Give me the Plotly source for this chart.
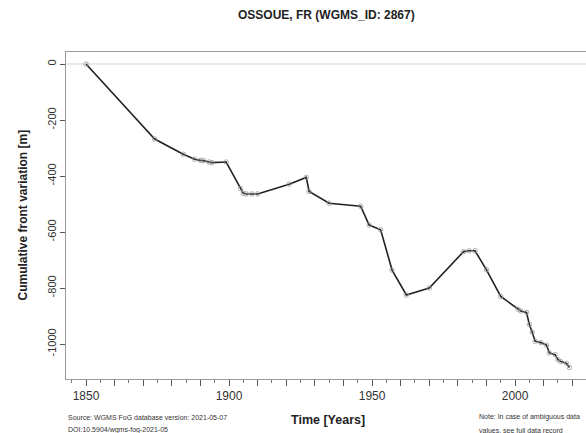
import plotly.graph_objects as go

title_text = "OSSOUE, FR (WGMS_ID: 2867)"
years = [1850, 1874, 1884, 1888, 1890, 1891, 1893, 1894, 1899, 1904, 1905, 1906, 1908, 1910,
         1921, 1927, 1928, 1935, 1946, 1949, 1953, 1957, 1962, 1970, 1982, 1984, 1986, 1990,
         1995, 2001, 2002, 2004, 2005, 2006, 2007, 2009, 2011, 2012, 2014, 2015, 2016, 2018, 2019]
cum_variation = [0, -268, -322, -340, -344, -345, -350, -352, -350, -445, -462, -464, -464, -464,
                 -429, -405, -455, -497, -508, -575, -592, -736, -825, -800, -670, -667, -667, -735,
                 -830, -876, -882, -887, -930, -958, -990, -995, -1004, -1032, -1038, -1056, -1063, -1069, -1084]

x_major_ticks = list(range(1850, 2021, 10))
x_tick_labels = [str(v) if v % 50 == 0 else "" for v in x_major_ticks]
y_ticks = [0, -200, -400, -600, -800, -1000]

source_lines = ["Source: WGMS FoG database version: 2021-05-07", "DOI:10.5904/wgms-fog-2021-05"]
note_lines = ["Note: In case of ambiguous data", "values, see full data record"]

FONT = "Liberation Sans, Arial, sans-serif"

fig = go.Figure()
fig.add_trace(go.Scatter(
    x=years, y=cum_variation, mode="lines+markers",
    line=dict(color="#222222", width=1.6),
    marker=dict(symbol="circle-open", size=4.5, color="#999999", line=dict(width=0.8)),
    showlegend=False,
))

fig.add_shape(type="line", xref="paper", yref="y", x0=0, x1=1, y0=0, y1=0,
              line=dict(color="#e2e2e2", width=1.5), layer="below")

annotations = [
    dict(text="<b>" + title_text + "</b>", xref="paper", yref="paper", x=0.5, y=1,
         xanchor="center", yanchor="middle", showarrow=False,
         font=dict(size=12, color="#222222"), yshift=37),
    dict(text="<b>Cumulative front variation [m]</b>", xref="paper", yref="paper",
         x=0, y=0.5, xanchor="center", yanchor="middle", textangle=-90, showarrow=False,
         font=dict(size=12, color="#222222"), xshift=-44),
    dict(text="<b>Time [Years]</b>", xref="paper", yref="paper", x=0.5, y=0,
         xanchor="center", yanchor="middle", showarrow=False,
         font=dict(size=12.5, color="#222222"), xshift=2, yshift=-41),
]
for i, line in enumerate(source_lines):
    annotations.append(dict(text=line, xref="paper", yref="paper", x=0, y=0,
                            xanchor="left", yanchor="middle", align="left", showarrow=False,
                            font=dict(size=7, color="#333333"), yshift=-38 - 13 * i))
for i, line in enumerate(note_lines):
    annotations.append(dict(text=line, xref="paper", yref="paper", x=0, y=0,
                            xanchor="left", yanchor="middle", align="left", showarrow=False,
                            font=dict(size=7, color="#333333"), xshift=411, yshift=-38 - 13 * i))

fig.update_layout(
    width=586, height=433,
    margin=dict(l=66, r=0, t=52, b=54),
    paper_bgcolor="white", plot_bgcolor="white",
    font=dict(family=FONT, color="#333333"),
    xaxis=dict(
        range=[1843.0, 2024.8], showgrid=False, zeroline=False,
        showline=True, linecolor="#9a9a9a", linewidth=1, mirror=True,
        tickmode="array", tickvals=x_major_ticks, ticktext=x_tick_labels,
        ticks="outside", ticklen=6, tickcolor="#555555",
        tickfont=dict(size=12, color="#333333"),
        minor=dict(dtick=5, tick0=1845, ticks="outside", ticklen=3, tickcolor="#777777"),
    ),
    yaxis=dict(
        range=[-1125, 43], showgrid=False, zeroline=False,
        showline=True, linecolor="#9a9a9a", linewidth=1, mirror=False,
        tickmode="array", tickvals=y_ticks, ticktext=[str(v) for v in y_ticks],
        ticks="outside", ticklen=5, tickcolor="#555555", tickangle=-90,
        tickfont=dict(size=11, color="#333333"),
    ),
    annotations=annotations,
)

fig.write_html("out.html", config={"displayModeBar": False},
               post_script="document.body.style.margin='0';document.body.style.overflow='hidden';")
